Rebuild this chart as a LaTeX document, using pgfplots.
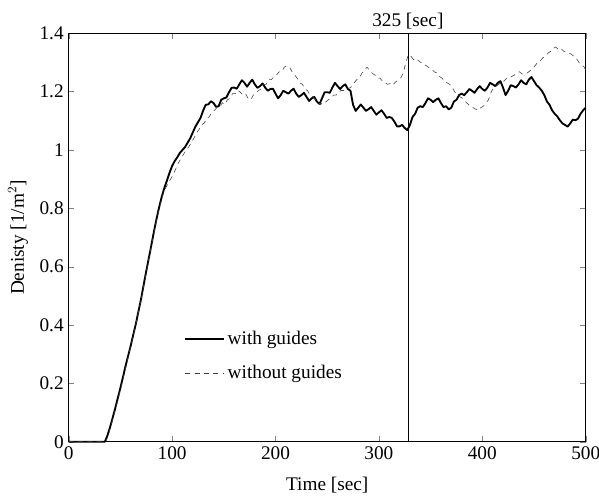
\documentclass[border=0pt]{standalone}
\usepackage{pgfplots}
\pgfplotsset{compat=1.18}
\usepackage{fontspec}
\setmainfont{Liberation Serif}
\begin{document}
\begin{tikzpicture}[font=\fontsize{13.5}{16}\selectfont]
\begin{axis}[
  scale only axis,
  width=361.9pt, height=285.9pt,
  xmin=0, xmax=500, ymin=0, ymax=1.4,
  xtick={0,100,...,500},
  ytick={0,0.2,0.4,0.6,0.8,1,1.2,1.4},
  tick align=inside, tick pos=both,
  major tick length=4pt,
  axis line style={line width=0.8pt},
  /pgf/number format/assume math mode=true,
  xlabel={Time [sec]},
  ylabel={Denisty [1/m$^2$]},
  xlabel style={at={(axis description cs:0.5,-0.106)}, anchor=center},
  ylabel style={at={(axis description cs:-0.098,0.5)}, anchor=center},
  clip=false,
  legend style={draw=none, fill=none, at={(rel axis cs:0.215,0.285)}, anchor=north west, row sep=9pt, font=\fontsize{13.5}{16}\selectfont},
  legend cell align=left,
  legend image code/.code={\draw[#1, line width=0.9pt] (0pt,0pt) -- (22pt,0pt); \path (0pt,0pt) -- (27pt,0pt);},
]
\addplot[black, line width=1.3pt, line join=round] coordinates {
(0,0) (35,0) (37.5,0.022) (40,0.05) (42.5,0.082) (45,0.115) (47.5,0.15) (50,0.185)
(52.5,0.222) (55,0.26) (57.5,0.295) (60,0.33) (62.5,0.368) (65,0.405) (67.5,0.448)
(70,0.49) (72.5,0.538) (75,0.585) (77.5,0.63) (80,0.675) (82.5,0.722) (85,0.765)
(87.5,0.805) (90,0.84) (92.5,0.87) (95,0.895) (97.5,0.922) (100,0.945) (102.5,0.962)
(105,0.975) (107.5,0.99) (110,1.0) (112.5,1.01) (115,1.025) (117.5,1.04)
(120,1.06) (122.5,1.08) (125,1.095) (127.5,1.11) (130,1.135) (132.5,1.155) (135,1.156)
(137.5,1.167) (140,1.161) (142.5,1.148) (145,1.15) (147.5,1.172) (150,1.177) (152.5,1.18)
(155,1.198) (157.5,1.213) (160,1.214) (162.5,1.21) (165,1.225) (167.5,1.239) (170,1.23)
(172.5,1.217) (175,1.23) (177.5,1.241) (180,1.225) (182.5,1.213) (185,1.219) (187.5,1.228)
(190,1.214) (192.5,1.203) (195,1.209) (197.5,1.21) (200,1.193) (202.5,1.177) (205,1.188)
(207.5,1.203) (210,1.198) (212.5,1.193) (215,1.203) (217.5,1.21) (220,1.193) (222.5,1.182)
(225,1.188) (227.5,1.196) (230,1.182) (232.5,1.168) (235,1.177) (237.5,1.182) (240,1.166)
(242.5,1.158) (245,1.177) (247.5,1.198) (250,1.198) (252.5,1.196) (255,1.214) (257.5,1.23)
(260,1.219) (262.5,1.209) (265,1.219) (267.5,1.225) (270,1.209) (272.5,1.203) (275,1.155)
(277.5,1.134) (280,1.145) (282.5,1.156) (285,1.145) (287.5,1.134) (290,1.14) (292.5,1.147)
(295,1.134) (297.5,1.121) (300,1.129) (302.5,1.136) (305,1.124) (307.5,1.11) (310,1.113)
(312.5,1.11) (315,1.097) (317.5,1.081) (320,1.081) (322.5,1.086) (325,1.075) (327.5,1.068)
(330,1.086) (332.5,1.113) (335,1.124) (337.5,1.145) (340,1.15) (342.5,1.147) (345,1.161)
(347.5,1.177) (350,1.172) (352.5,1.164) (355,1.172) (357.5,1.177) (360,1.161) (362.5,1.147)
(365,1.15) (367.5,1.139) (370,1.145) (372.5,1.166) (375,1.172) (377.5,1.188) (380,1.193)
(382.5,1.188) (385,1.198) (387.5,1.209) (390,1.203) (392.5,1.196) (395,1.209) (397.5,1.219)
(400,1.209) (402.5,1.203) (405,1.214) (407.5,1.23) (410,1.225) (412.5,1.219) (415,1.23)
(417.5,1.236) (420,1.214) (422.5,1.188) (425,1.203) (427.5,1.222) (430,1.219) (432.5,1.214)
(435,1.225) (437.5,1.239) (440,1.23) (442.5,1.225) (445,1.241) (447.5,1.25) (450,1.236)
(452.5,1.222) (455,1.214) (457.5,1.203) (460,1.188) (462.5,1.166) (465,1.155) (467.5,1.136)
(470,1.124) (472.5,1.115) (475,1.102) (477.5,1.091) (480,1.086) (482.5,1.08) (485,1.091)
(487.5,1.104) (490,1.102) (492.5,1.107) (495,1.124) (497.5,1.136) (500,1.145)
};
\addlegendentry{with guides}
\addplot[black!75, thin, dash pattern=on 3.5pt off 3pt] coordinates {
(0,0) (36,0) (38.5,0.026) (41,0.056) (43.5,0.088) (46,0.122) (48.5,0.157) (51,0.192)
(53.5,0.23) (56,0.268) (58.5,0.305) (61,0.342) (63.5,0.382) (66,0.42) (68.5,0.462)
(71,0.505) (73.5,0.552) (76,0.6) (78.5,0.645) (81,0.69) (83.5,0.735) (86,0.775)
(88.5,0.812) (91,0.845) (93.5,0.868) (96,0.885) (98.5,0.9) (101,0.915) (103.5,0.935)
(106,0.955) (108.5,0.97) (111,0.985) (113.5,1.0) (116,1.01) (118.5,1.025)
(121,1.04) (123.5,1.058) (126,1.07) (128.5,1.086) (131,1.092) (133.5,1.108) (136,1.114)
(138.5,1.13) (141,1.136) (143.5,1.146) (146,1.146) (148.5,1.162) (151,1.156) (153.5,1.172)
(156,1.177) (158.5,1.193) (161,1.193) (163.5,1.204) (166,1.198) (168.5,1.188) (171,1.193)
(173.5,1.177) (176,1.172) (178.5,1.188) (181,1.193) (183.5,1.204) (186,1.209) (188.5,1.225)
(191,1.225) (193.5,1.241) (196,1.241) (198.5,1.252) (201,1.257) (203.5,1.268) (206,1.268)
(208.5,1.284) (211,1.289) (213.5,1.284) (216,1.268) (218.5,1.257) (221,1.246) (223.5,1.23)
(226,1.225) (228.5,1.209) (231,1.203) (233.5,1.188) (236,1.182) (238.5,1.172) (241,1.166)
(243.5,1.155) (246,1.166) (248.5,1.164) (251,1.172) (253.5,1.177) (256,1.188) (258.5,1.188)
(261,1.198) (263.5,1.204) (266,1.204) (268.5,1.214) (271,1.211) (273.5,1.217) (276,1.23)
(278.5,1.241) (281,1.246) (283.5,1.263) (286,1.273) (288.5,1.284) (291,1.273) (293.5,1.263)
(296,1.257) (298.5,1.246) (301,1.246) (303.5,1.236) (306,1.23) (308.5,1.225) (311,1.228)
(313.5,1.222) (316,1.233) (318.5,1.239) (321,1.246) (323.5,1.264) (326,1.299) (328.5,1.327)
(331,1.321) (333.5,1.31) (336,1.314) (338.5,1.305) (341,1.299) (343.5,1.292) (346,1.289)
(348.5,1.281) (351,1.278) (353.5,1.268) (356,1.264) (358.5,1.252) (361,1.246) (363.5,1.236)
(366,1.23) (368.5,1.225) (371,1.214) (373.5,1.198) (376,1.193) (378.5,1.182) (381,1.177)
(383.5,1.166) (386,1.158) (388.5,1.15) (391,1.145) (393.5,1.14) (396,1.136) (398.5,1.145)
(401,1.15) (403.5,1.161) (406,1.172) (408.5,1.198) (411,1.214) (413.5,1.219) (416,1.225)
(418.5,1.236) (421,1.236) (423.5,1.246) (426,1.246) (428.5,1.252) (431,1.257) (433.5,1.264)
(436,1.268) (438.5,1.26) (441,1.262) (443.5,1.264) (446,1.271) (448.5,1.278) (451,1.289)
(453.5,1.3) (456,1.305) (458.5,1.316) (461,1.321) (463.5,1.332) (466,1.338) (468.5,1.348)
(471,1.353) (473.5,1.345) (476,1.348) (478.5,1.339) (481,1.335) (483.5,1.332) (486,1.329)
(488.5,1.321) (491,1.314) (493.5,1.3) (496,1.292) (498.5,1.284) (500,1.273)
};
\addlegendentry{without guides}
\addplot[black, thin, forget plot] coordinates {(328,0) (328,1.4)};
\node[anchor=south, inner sep=2.5pt] at (axis cs:328,1.4) {325 [sec]};
\coordinate (O) at (rel axis cs:0,0);
\end{axis}
\pgfresetboundingbox
\path[use as bounding box] ([shift={(-48.1pt,-38.7pt)}]O) rectangle ([shift={(371.2pt,309.2pt)}]O);
\end{tikzpicture}
\end{document}
